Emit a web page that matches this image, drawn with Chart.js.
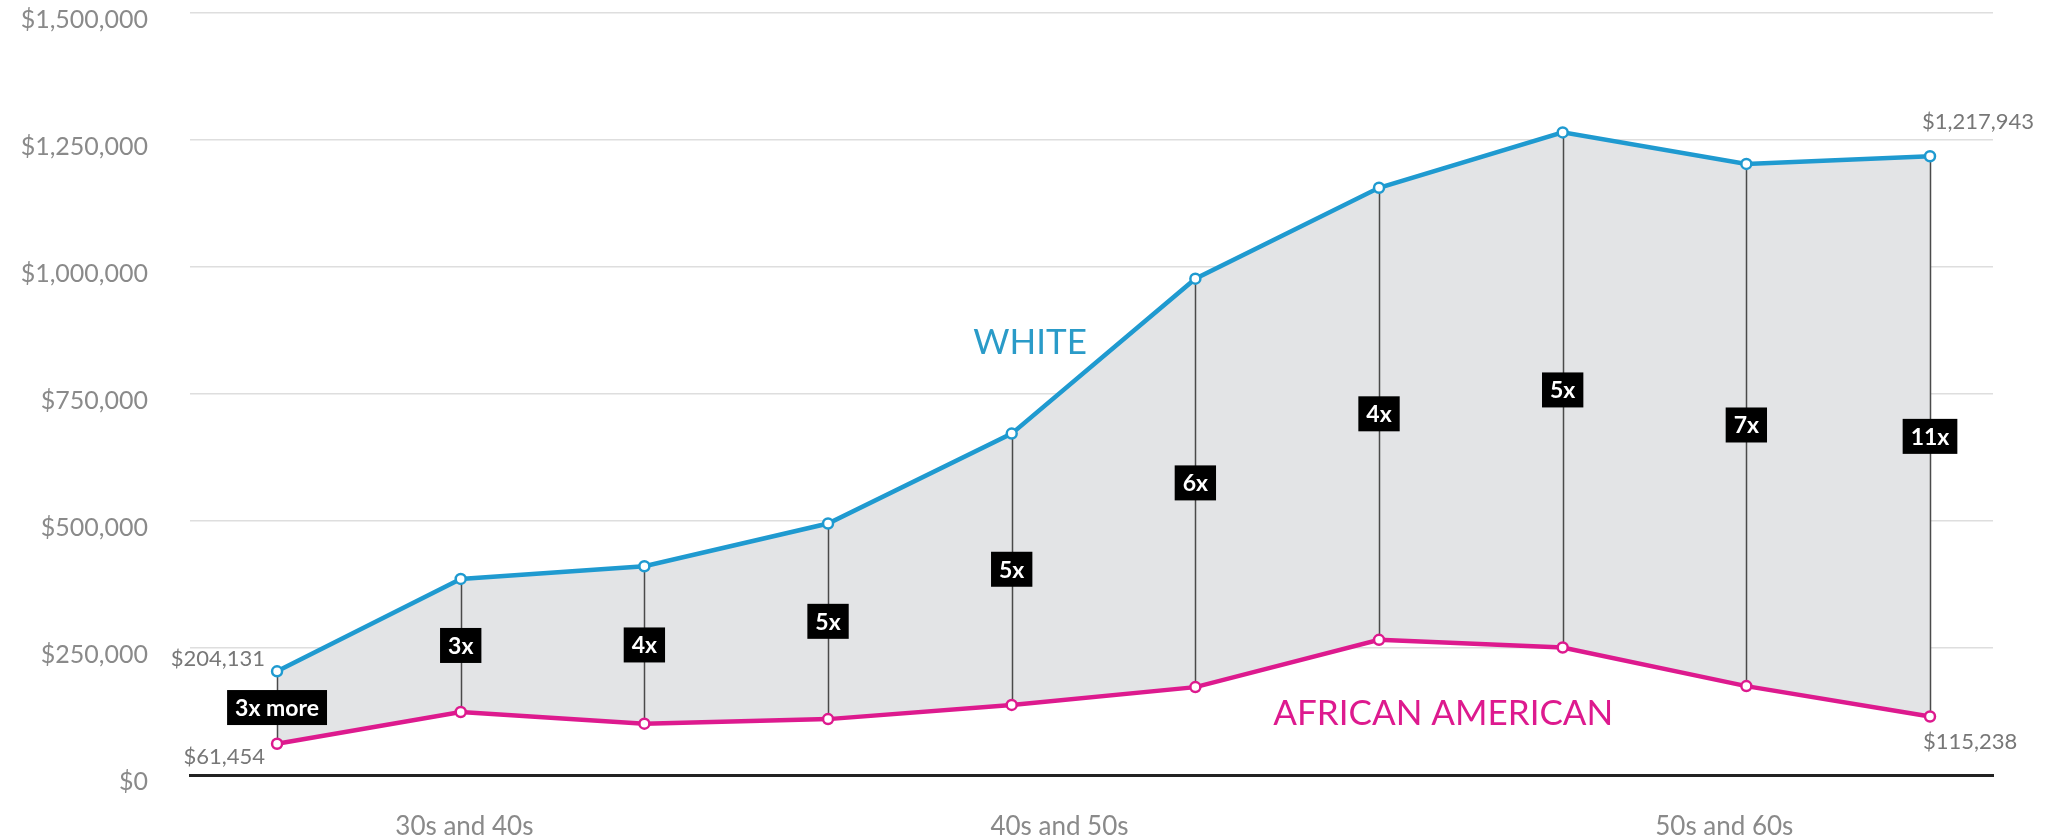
<!DOCTYPE html>
<html>
<head>
<meta charset="utf-8">
<script src="https://cdn.jsdelivr.net/npm/chart.js@4.4.1/dist/chart.umd.min.js"></script>
<style>
  html, body { margin: 0; padding: 0; background: #fff; }
  #wrap { width: 2059px; height: 838px; position: relative; }
</style>
</head>
<body>
<div id="wrap"><canvas id="wealthChart"></canvas></div>
<script>
// values (median wealth, one point per step)
const steps = [0, 1, 2, 3, 4, 5, 6, 7, 8, 9];
const whiteWealth = [204131, 386000, 411000, 495000, 672000, 977000, 1156000, 1265000, 1203000, 1217943];
const blackWealth = [61454, 124000, 101000, 110000, 138000, 173000, 266000, 251000, 175000, 115238];
const gapLabels = ["3x more", "3x", "4x", "5x", "5x", "6x", "4x", "5x", "7x", "11x"];

// decade labels along the bottom and where they sit on the step axis
const decadeLabels = ["30s and 40s", "40s and 50s", "50s and 60s"];
const decadePos = [1.02, 4.26, 7.88];

const yTicks = [0, 250000, 500000, 750000, 1000000, 1250000, 1500000];

const BLUE = "#1f9ad0";
const PINK = "#dd1a8e";
const FONT = "Lato, 'Open Sans', sans-serif";

const money = v => "$" + Math.round(v).toLocaleString("en-US");

// vertical connectors between the two lines, boxes and end labels
const connectorPlugin = {
    id: "connectors",
    beforeDatasetsDraw(chart) {
        const { ctx, scales } = chart;
        ctx.save();
        ctx.strokeStyle = "#4a4a4a";
        ctx.lineWidth = 1.5;
        steps.forEach(i => {
            const x = Math.round(scales.x.getPixelForValue(i)) + 0.5;
            ctx.beginPath();
            ctx.moveTo(x, scales.y.getPixelForValue(whiteWealth[i]));
            ctx.lineTo(x, scales.y.getPixelForValue(blackWealth[i]));
            ctx.stroke();
        });
        ctx.restore();
    },
    afterDatasetsDraw(chart) {
        const { ctx, scales } = chart;
        ctx.save();

        // black "Nx" boxes halfway between the lines
        ctx.font = "bold 23px " + FONT;
        ctx.textAlign = "center";
        ctx.textBaseline = "middle";
        steps.forEach(i => {
            const x = scales.x.getPixelForValue(i);
            const yTop = scales.y.getPixelForValue(whiteWealth[i]);
            const yBot = scales.y.getPixelForValue(blackWealth[i]);
            const yMid = (yTop + yBot) / 2;
            const w = ctx.measureText(gapLabels[i]).width + 16;
            const h = 35;
            ctx.fillStyle = "#000";
            ctx.fillRect(x - w / 2, yMid - h / 2, w, h);
            ctx.fillStyle = "#fff";
            ctx.fillText(gapLabels[i], x, yMid + 1);
        });

        // value labels at both ends
        ctx.font = "22px " + FONT;
        ctx.fillStyle = "#777";
        const first = 0, last = steps.length - 1;
        const x0 = scales.x.getPixelForValue(first);
        const x9 = scales.x.getPixelForValue(last);
        ctx.textAlign = "right";
        ctx.fillText(money(whiteWealth[first]), x0 - 12, scales.y.getPixelForValue(whiteWealth[first]) - 12);
        ctx.fillText(money(blackWealth[first]), x0 - 12, scales.y.getPixelForValue(blackWealth[first]) + 13);
        ctx.textAlign = "left";
        ctx.fillText(money(whiteWealth[last]), x9 - 8, scales.y.getPixelForValue(whiteWealth[last]) - 34);
        ctx.fillText(money(blackWealth[last]), x9 - 7, scales.y.getPixelForValue(blackWealth[last]) + 25);

        // series names
        ctx.textAlign = "center";
        ctx.font = "35px " + FONT;
        ctx.fillStyle = "#2a9bc8";
        ctx.fillText("WHITE", scales.x.getPixelForValue(4.1), scales.y.getPixelForValue(850000));
        ctx.fillStyle = PINK;
        ctx.fillText("AFRICAN AMERICAN", scales.x.getPixelForValue(6.35), scales.y.getPixelForValue(120000));

        ctx.restore();
    }
};

const ctx = document.getElementById("wealthChart").getContext("2d");
new Chart(ctx, {
    type: "line",
    data: {
        datasets: [{
            label: "White",
            data: steps.map(i => ({ x: i, y: whiteWealth[i] })),
            borderColor: BLUE,
            borderWidth: 4.5,
            backgroundColor: "#e3e4e6",
            fill: "+1",
            pointRadius: 5,
            pointBorderWidth: 2.5,
            pointBackgroundColor: "#fff",
            pointBorderColor: BLUE,
            tension: 0
        }, {
            label: "African American",
            data: steps.map(i => ({ x: i, y: blackWealth[i] })),
            borderColor: PINK,
            borderWidth: 4.5,
            fill: false,
            pointRadius: 5,
            pointBorderWidth: 2.5,
            pointBackgroundColor: "#fff",
            pointBorderColor: PINK,
            tension: 0
        }]
    },
    options: {
        responsive: true,
        maintainAspectRatio: false,
        animation: false,
        layout: { padding: { top: 13, right: 66, bottom: 0, left: 0 } },
        plugins: {
            legend: { display: false },
            tooltip: { enabled: false },
            filler: { drawTime: "beforeDatasetsDraw" }
        },
        scales: {
            x: {
                type: "linear",
                min: -0.474,
                max: 9.343,
                afterBuildTicks: scale => { scale.ticks = decadePos.map(v => ({ value: v })); },
                afterFit: scale => { scale.height = 63; },
                ticks: {
                    autoSkip: false,
                    maxRotation: 0,
                    padding: 39,
                    color: "#8a8a8a",
                    font: { family: FONT, size: 26, lineHeight: 1 },
                    callback: v => decadeLabels[decadePos.indexOf(v)]
                },
                grid: { display: false, drawTicks: false },
                border: { display: true, color: "#222", width: 3 }
            },
            y: {
                min: 0,
                max: 1500000,
                afterBuildTicks: scale => { scale.ticks = yTicks.map(v => ({ value: v })); },
                afterFit: scale => {
                    scale.width = 190;
                    scale.paddingTop = 12;
                    scale.paddingBottom = 0;
                },
                ticks: {
                    padding: 42,
                    labelOffset: 7,
                    color: "#8a8a8a",
                    font: { family: FONT, size: 25, lineHeight: 1 },
                    callback: v => money(v)
                },
                grid: { color: "#dedede", lineWidth: 1.5, drawTicks: false },
                border: { display: false }
            }
        }
    },
    plugins: [connectorPlugin]
});
</script>
</body>
</html>
